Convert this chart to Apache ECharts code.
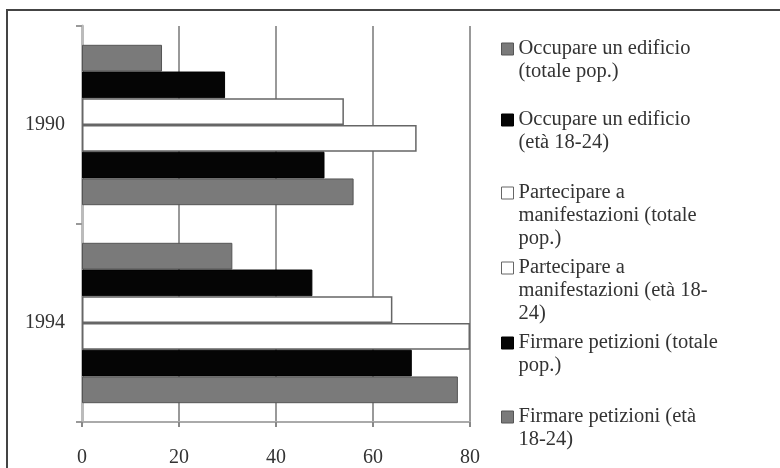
<!DOCTYPE html>
<html>
<head>
<meta charset="utf-8">
<script src="https://cdn.jsdelivr.net/npm/echarts@6/dist/echarts.min.js"></script>
<style>
html,body{margin:0;padding:0;background:#fff;}
#chart{width:780px;height:468px;}
</style>
</head>
<body>
<div id="chart"></div>
<script>
// ---- data ----
const categories = ['1990', '1994'];
const xTicks = [0, 20, 40, 60, 80];
const seriesNames = [
  'Occupare un edificio (totale pop.)',
  'Occupare un edificio (età 18-24)',
  'Partecipare a manifestazioni (totale pop.)',
  'Partecipare a manifestazioni (età 18-24)',
  'Firmare petizioni (totale pop.)',
  'Firmare petizioni (età 18-24)'
];
const legendLabels = [
  'Occupare un edificio\n(totale pop.)',
  'Occupare un edificio\n(età 18-24)',
  'Partecipare a\nmanifestazioni (totale\npop.)',
  'Partecipare a\nmanifestazioni (età 18-\n24)',
  'Firmare petizioni (totale\npop.)',
  'Firmare petizioni (età\n18-24)'
];
const occupareTotale = [16.5, 31];
const occupare1824 = [29.5, 47.5];
const partecipareTotale = [54, 64];
const partecipare1824 = [69, 80];
const firmareTotale = [50, 68];
const firmare1824 = [56, 77.5];

const seriesValues = [occupareTotale, occupare1824, partecipareTotale, partecipare1824, firmareTotale, firmare1824];

// ---- styles ----
const FONT = '"Liberation Serif", "DejaVu Serif", serif';
const styles = [
  {color: '#7a7a7a', borderColor: '#555', borderWidth: 1},
  {color: '#050505', borderColor: '#000', borderWidth: 1},
  {color: '#ffffff', borderColor: '#666', borderWidth: 1.5},
  {color: '#ffffff', borderColor: '#666', borderWidth: 1.5},
  {color: '#050505', borderColor: '#000', borderWidth: 1},
  {color: '#7a7a7a', borderColor: '#555', borderWidth: 1}
];
const LH = 23;
const iconCenters = [49, 120, 193, 268, 343, 417];

const legends = seriesNames.map((name, i) => {
  const n = legendLabels[i].split('\n').length;
  const text = '\n'.repeat(n - 1) + legendLabels[i];
  return {
    orient: 'vertical',
    left: 501,
    top: iconCenters[i] - (2 * n - 1) * LH / 2,
    padding: 0,
    itemWidth: 12,
    itemHeight: 12,
    icon: 'rect',
    selectedMode: false,
    data: [name],
    formatter: () => text,
    itemStyle: {borderColor: styles[i].borderColor, borderWidth: 1},
    textStyle: {
      fontFamily: FONT,
      fontSize: 20.5,
      color: '#333',
      lineHeight: LH
    }
  };
});

const chart = echarts.init(document.getElementById('chart'), null, {renderer: 'canvas'});
chart.setOption({
  animation: false,
  backgroundColor: '#fff',
  graphic: [{
    type: 'rect',
    shape: {x: 7, y: 10, width: 800, height: 500},
    style: {fill: 'none', stroke: '#444', lineWidth: 2},
    silent: true,
    z: 100
  }],
  grid: {left: 82, right: 310, top: 26, bottom: 45, containLabel: false},
  legend: legends,
  xAxis: {
    type: 'value',
    min: xTicks[0],
    max: xTicks[xTicks.length - 1],
    interval: xTicks[1] - xTicks[0],
    axisLine: {show: true, lineStyle: {color: '#aaa', width: 2}},
    axisTick: {show: true, length: 5, lineStyle: {color: '#888', width: 2}},
    splitLine: {show: true, lineStyle: {color: '#999', width: 2}},
    axisLabel: {fontFamily: FONT, fontSize: 20, color: '#333', margin: 26}
  },
  yAxis: {
    type: 'category',
    data: categories,
    inverse: true,
    axisLine: {show: true, lineStyle: {color: '#bbb', width: 3}},
    axisTick: {show: true, length: 6, lineStyle: {color: '#999', width: 2}},
    axisLabel: {fontFamily: FONT, fontSize: 20, color: '#333', margin: 17}
  },
  series: seriesNames.map((name, i) => ({
    name: name,
    type: 'bar',
    data: seriesValues[i],
    barGap: '0%',
    barCategoryGap: '19%',
    itemStyle: styles[i]
  }))
});
</script>
</body>
</html>
